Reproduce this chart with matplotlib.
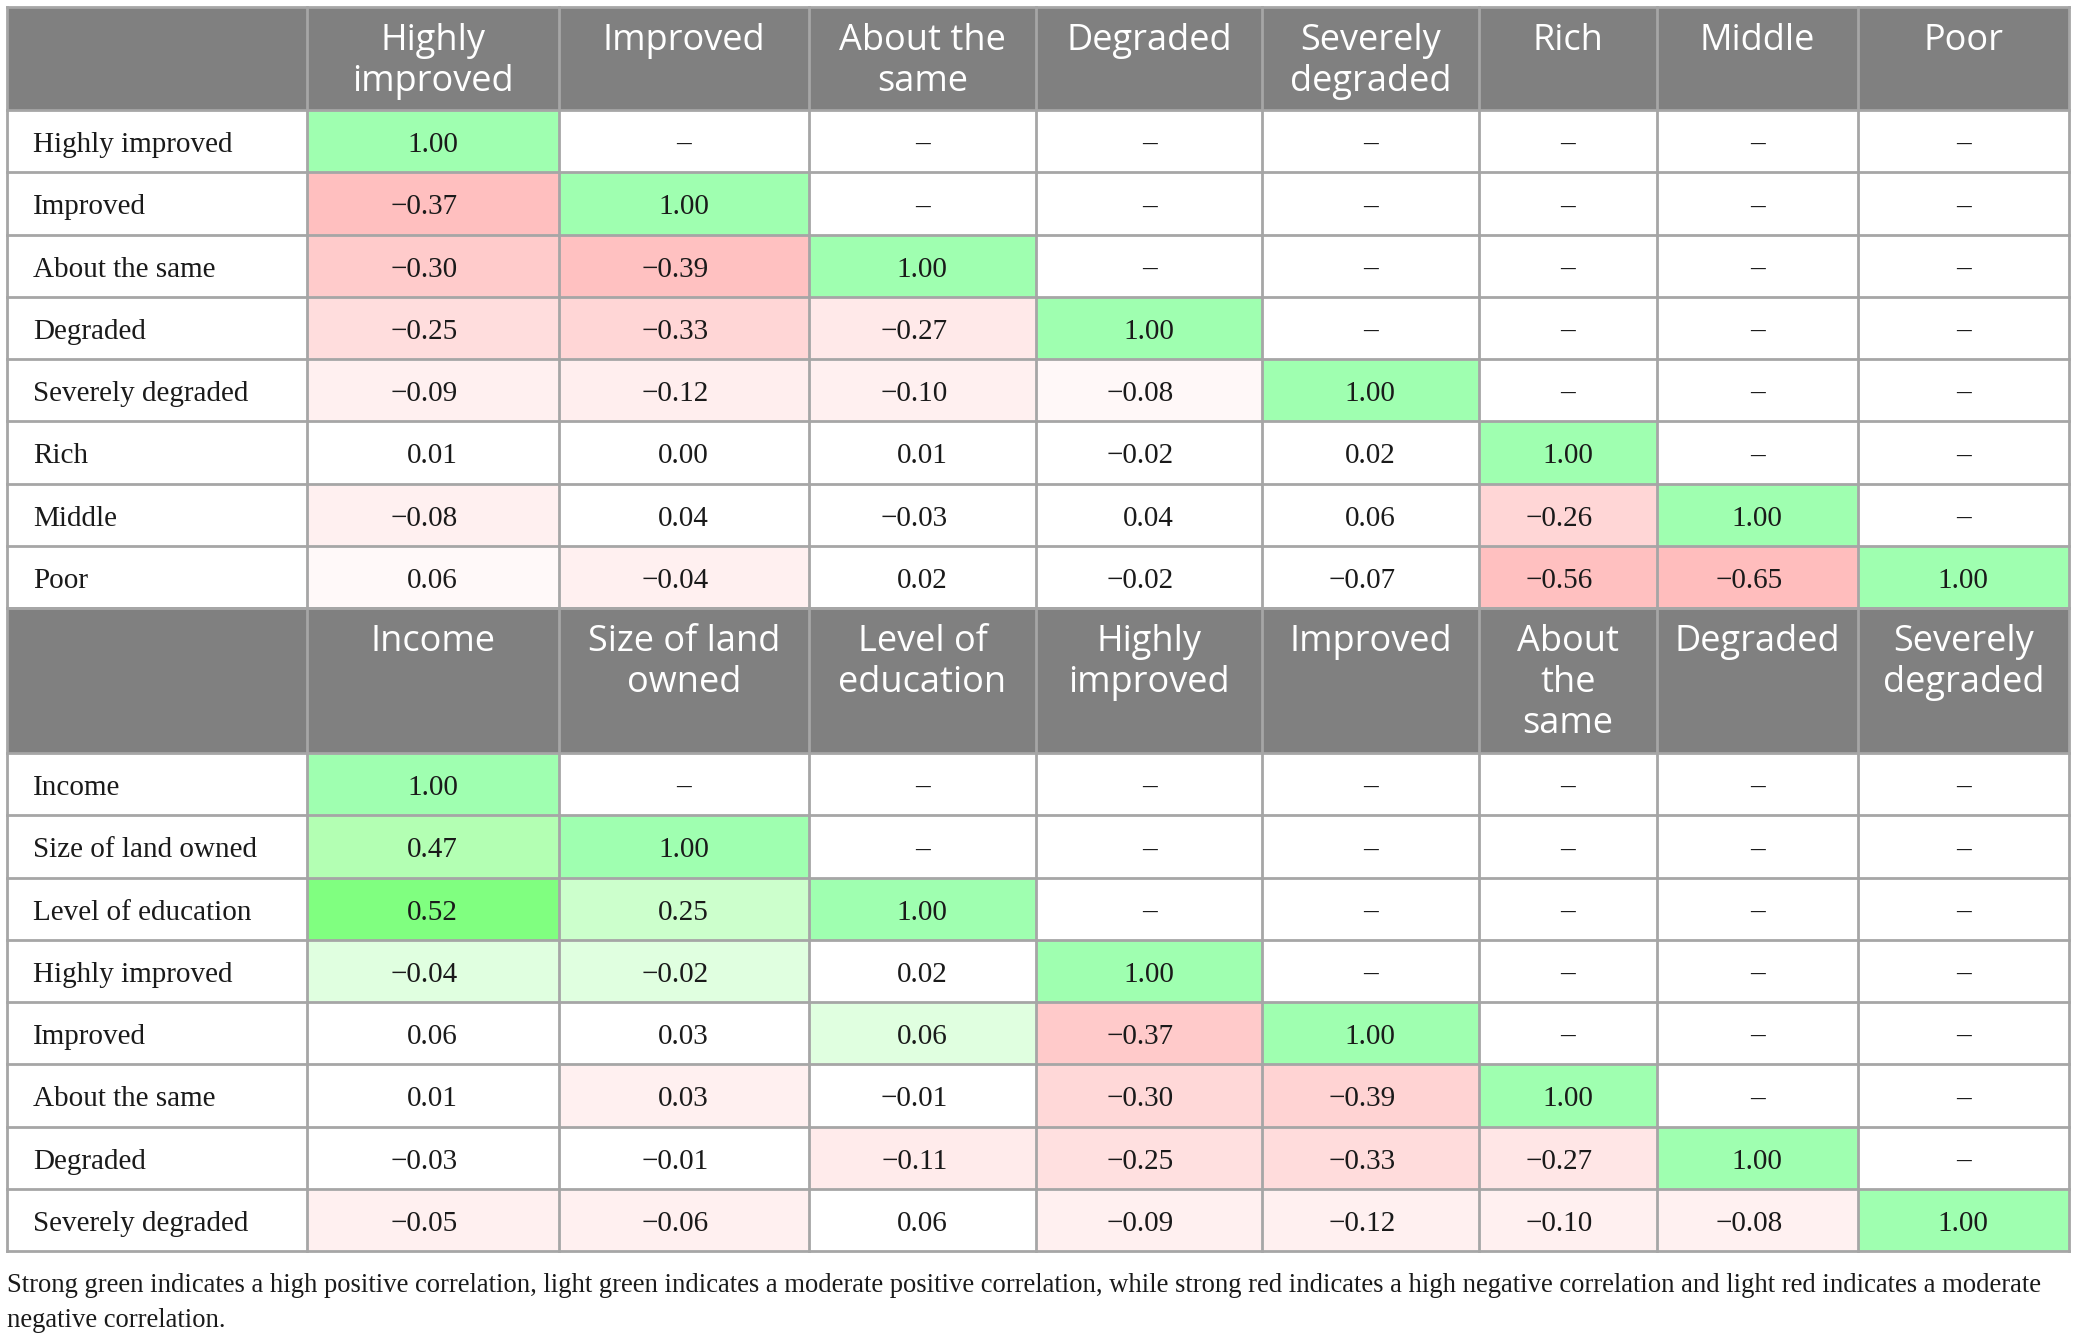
import matplotlib.pyplot as plt
from matplotlib.patches import Rectangle

# ---- data ----
top_cols = ["Highly\nimproved", "Improved", "About the\nsame", "Degraded",
            "Severely\ndegraded", "Rich", "Middle", "Poor"]
top_rows = ["Highly improved", "Improved", "About the same", "Degraded",
            "Severely degraded", "Rich", "Middle", "Poor"]
top_vals = [
    [1.00],
    [-0.37, 1.00],
    [-0.30, -0.39, 1.00],
    [-0.25, -0.33, -0.27, 1.00],
    [-0.09, -0.12, -0.10, -0.08, 1.00],
    [0.01, 0.00, 0.01, -0.02, 0.02, 1.00],
    [-0.08, 0.04, -0.03, 0.04, 0.06, -0.26, 1.00],
    [0.06, -0.04, 0.02, -0.02, -0.07, -0.56, -0.65, 1.00],
]

bot_cols = ["Income", "Size of land\nowned", "Level of\neducation", "Highly\nimproved",
            "Improved", "About\nthe\nsame", "Degraded", "Severely\ndegraded"]
bot_rows = ["Income", "Size of land owned", "Level of education", "Highly improved",
            "Improved", "About the same", "Degraded", "Severely degraded"]
bot_vals = [
    [1.00],
    [0.47, 1.00],
    [0.52, 0.25, 1.00],
    [-0.04, -0.02, 0.02, 1.00],
    [0.06, 0.03, 0.06, -0.37, 1.00],
    [0.01, 0.03, -0.01, -0.30, -0.39, 1.00],
    [-0.03, -0.01, -0.11, -0.25, -0.33, -0.27, 1.00],
    [-0.05, -0.06, 0.06, -0.09, -0.12, -0.10, -0.08, 1.00],
]

caption = ["Strong green indicates a high positive correlation, light green indicates a moderate "
           "positive correlation, while strong red indicates a high negative correlation and light red indicates a moderate",
           "negative correlation."]

# ---- cell shading (as in the source table) ----
G = "#9FFFB0"
W = "#FFFFFF"
top_shade = [
    [G],
    ["#FFBFBF", G],
    ["#FFCBCB", "#FFC1C1", G],
    ["#FFDDDD", "#FFD6D6", "#FFE9E9", G],
    ["#FFF0F0", "#FFEEEE", "#FFF0F0", "#FFF8F8", G],
    [W, W, W, W, W, G],
    ["#FFF0F0", W, W, W, W, "#FFD6D6", G],
    ["#FFF9F9", "#FFF0F0", W, W, W, "#FFC0C0", "#FFBDBD", G],
]
bot_shade = [
    [G],
    ["#B3FFB3", G],
    ["#80FF80", "#CCFFCC", G],
    ["#E0FFE0", "#E0FFE0", W, G],
    [W, W, "#E0FFE0", "#FFCACA", G],
    [W, "#FFF0F0", W, "#FFD8D8", "#FFD3D3", G],
    [W, W, "#FFEBEB", "#FFE0E0", "#FFDCDC", "#FFE6E6", G],
    ["#FFF0F0", "#FFF0F0", W, "#FFF0F0", "#FFF0F0", "#FFF0F0", "#FFF1F1", G],
]

# ---- layout (pixels) ----
col_edges = [7, 307, 559, 809, 1036, 1262, 1479, 1657, 1858, 2069]
row_h = 62.25
grid_c = "#A6A6A6"
head_c = "#808080"
ink = "#1a1a1a"
serif = ["Liberation Serif", "DejaVu Serif"]
sans = ["Open Sans", "DejaVu Sans"]

fig = plt.figure(figsize=(20.76, 13.42), dpi=100)
ax = fig.add_axes([0, 0, 1, 1])
ax.set_xlim(0, 2076)
ax.set_ylim(1342, 0)
ax.axis('off')


def fmt(v):
    return f"{v:.2f}".replace("-", "\u2212")


def draw_table(top, head_h, cols, rows, vals, shade):
    x0, x1 = col_edges[0], col_edges[-1]
    ax.add_patch(Rectangle((x0, top), x1 - x0, head_h, facecolor=head_c, edgecolor='none'))
    for j, lab in enumerate(cols):
        cx = (col_edges[j + 1] + col_edges[j + 2]) / 2
        for k, line in enumerate(lab.split("\n")):
            ax.text(cx, top + 43 + 41 * k, line, ha='center', va='baseline',
                    color='white', fontsize=26, family=sans)
    body = top + head_h
    for i, lab in enumerate(rows):
        y = body + i * row_h
        ax.text(33, y + row_h / 2 + 11, lab, ha='left', va='baseline',
                fontsize=21, family=serif, color=ink)
        for j in range(len(cols)):
            xa, xb = col_edges[j + 1], col_edges[j + 2]
            cx = (xa + xb) / 2
            if j < len(vals[i]):
                ax.add_patch(Rectangle((xa, y), xb - xa, row_h, facecolor=shade[i][j],
                                       edgecolor='none'))
                ax.text(cx + 25, y + row_h / 2 + 11, fmt(vals[i][j]), ha='right',
                        va='baseline', fontsize=21, family=serif, color=ink)
            else:
                ax.text(cx, y + row_h / 2 + 11, "\u2013", ha='center', va='baseline',
                        fontsize=21, family=serif, color=ink)
    bottom = body + len(rows) * row_h
    # grid lines
    for x in col_edges:
        ax.plot([x, x], [top, bottom], color=grid_c, lw=2, solid_capstyle='projecting')
    for k in range(len(rows) + 1):
        y = body + k * row_h
        ax.plot([x0, x1], [y, y], color=grid_c, lw=2, solid_capstyle='projecting')
    ax.plot([x0, x1], [top, top], color=grid_c, lw=2, solid_capstyle='projecting')
    return bottom


b1 = draw_table(7, 103, top_cols, top_rows, top_vals, top_shade)
b2 = draw_table(b1, 145, bot_cols, bot_rows, bot_vals, bot_shade)

ax.text(7, 1292, caption[0], ha='left', va='baseline', fontsize=19.2, family=serif, color=ink)
ax.text(7, 1327, caption[1], ha='left', va='baseline', fontsize=19.2, family=serif, color=ink)

fig.savefig("out.png", dpi=100)
